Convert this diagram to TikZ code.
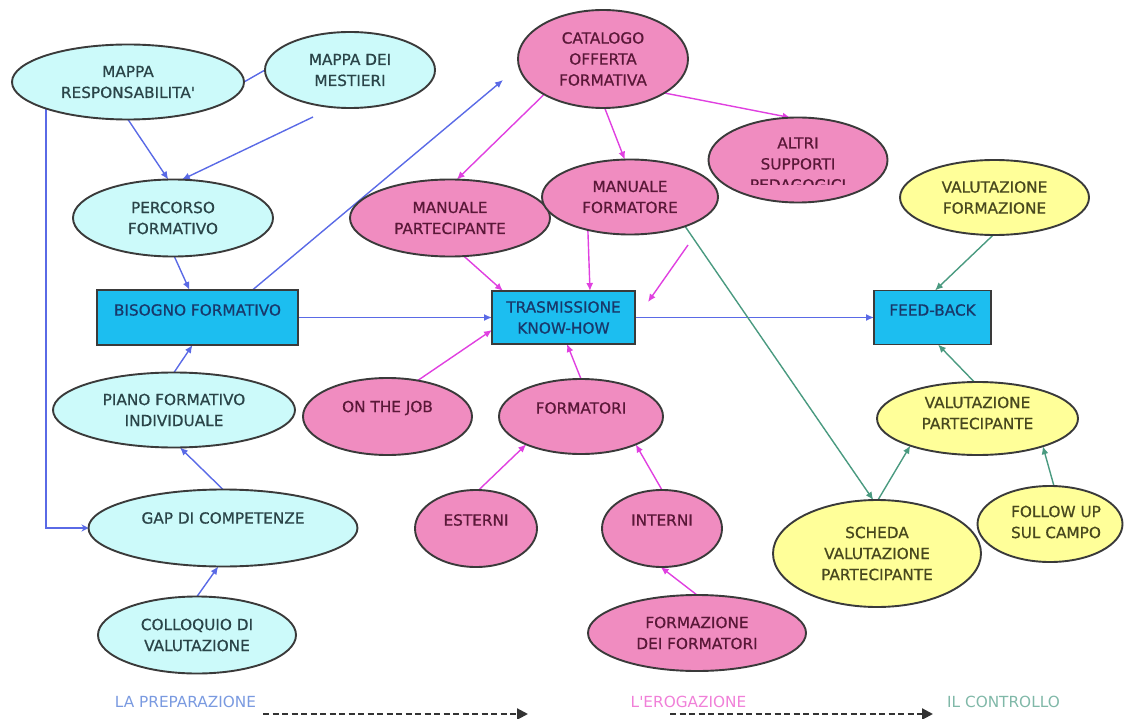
\documentclass[tikz,border=0pt]{standalone}
\usepackage{fontspec}
\setmainfont{DejaVu Sans}
\newfontfamily\nodefont{DejaVu Sans}[FakeBold=0.7]
\usetikzlibrary{shapes.geometric,arrows.meta,backgrounds}
\definecolor{cyanfill}{HTML}{CCFAFA}
\definecolor{pinkfill}{HTML}{F08CC0}
\definecolor{yellowfill}{HTML}{FFFF99}
\definecolor{boxfill}{HTML}{1CBEF0}
\definecolor{bord}{HTML}{3A3A3A}
\definecolor{preptext}{HTML}{2A4448}
\definecolor{erogtext}{HTML}{5A1838}
\definecolor{ctrltext}{HTML}{48481E}
\definecolor{boxtext}{HTML}{18386A}
\definecolor{blueline}{HTML}{5A6AE6}
\definecolor{magline}{HTML}{E040E0}
\definecolor{tealline}{HTML}{4A9A80}
\definecolor{prepcol}{HTML}{7A9AE0}
\definecolor{erogcol}{HTML}{F080D8}
\definecolor{ctrlcol}{HTML}{80B8A8}
\begin{document}
\begin{tikzpicture}[x=1pt,y=-1pt,
  every node/.style={font=\nodefont\fontsize{15.3}{21}\selectfont, align=center, inner sep=0pt, outer sep=0pt},
  ell/.style={ellipse, draw=bord, line width=1.9pt},
  prep/.style={ell, fill=cyanfill, text=preptext},
  erog/.style={ell, fill=pinkfill, text=erogtext},
  ctrl/.style={ell, fill=yellowfill, text=ctrltext},
  boxnode/.style={rectangle, draw=bord, line width=1.9pt, fill=boxfill, text=boxtext},
  sz/.style n args={2}{minimum width=#1pt, minimum height=#2pt},
  tip/.style={-{Latex[length=8pt,width=7pt]}},
  bl/.style={draw=blueline, line width=1.4pt, tip},
  bline/.style={draw=blueline, line width=1.4pt},
  blo/.style={draw=blueline, line width=1.6pt, -{Stealth[length=7pt,width=7pt]}},
  mg/.style={draw=magline, line width=1.4pt, tip},
  tl/.style={draw=tealline, line width=1.4pt, tip},
  phaselbl/.style={font=\fontsize{15.3}{21}\selectfont},
  phase/.style={draw=black!80, line width=2.2pt, dash pattern=on 6pt off 3.5pt, -{Triangle[length=11pt,width=11pt]}}
]
\useasboundingbox (0,0) rectangle (1126,719);

% --- preparation (cyan)
\node[prep, sz={232}{75}] (mr) at (128,82) {MAPPA\\RESPONSABILITA\textquotesingle};
\node[prep, sz={170}{76}] (mm) at (350,70) {MAPPA DEI\\MESTIERI};
\node[prep, sz={200}{77}] (pf) at (173,218) {PERCORSO\\FORMATIVO};
\node[prep, sz={242}{75}] (pi) at (174,410) {PIANO FORMATIVO\\INDIVIDUALE};
\node[prep, sz={269}{77}] (gc) at (223,528) {};
\node[text=preptext] (gct) at (223,518) {GAP DI COMPETENZE};
\node[prep, sz={198}{77}] (co) at (197,635) {COLLOQUIO DI\\VALUTAZIONE};

% --- boxes
\node[boxnode, sz={201}{55}] (bf) at (197.5,317.5) {};
\node[text=boxtext] (bft) at (197.5,310) {BISOGNO FORMATIVO};
\node[boxnode, sz={143}{53}] (tk) at (563.5,317.5) {TRASMISSIONE\\KNOW-HOW};
\node[boxnode, sz={117}{54}] (fb) at (932.5,317.5) {};
\node[text=boxtext] (fbt) at (932.5,310) {FEED-BACK};

% --- delivery (pink)
\node[erog, sz={170}{98}] (ct) at (603,59) {CATALOGO\\OFFERTA\\FORMATIVA};
\node[erog, sz={200}{77}] (mp) at (450,218) {MANUALE\\PARTECIPANTE};
\node[erog, sz={176}{75}] (mf) at (630,197) {MANUALE\\FORMATORE};
\node[erog, sz={179}{85}] (al) at (798,160) {};
\begin{scope}
  \clip (700,120) rectangle (900,185);
  \node[text=erogtext] (alt) at (798,164) {ALTRI\\SUPPORTI\\PEDAGOGICI};
\end{scope}
\node[erog, sz={169}{77}] (oj) at (387.5,416.5) {};
\node[text=erogtext] (ojt) at (387.5,408) {ON THE JOB};
\node[erog, sz={164}{75}] (fo) at (581,416.5) {};
\node[text=erogtext] (fot) at (581,408) {FORMATORI};
\node[erog, sz={122}{77}] (es) at (476,528.5) {};
\node[text=erogtext] (est) at (476,520) {ESTERNI};
\node[erog, sz={120}{77}] (in) at (662,528.5) {};
\node[text=erogtext] (int) at (662,520) {INTERNI};
\node[erog, sz={218}{76}] (ff) at (697,633) {FORMAZIONE\\DEI FORMATORI};

% --- control (yellow)
\node[ctrl, sz={189}{75}] (vf) at (994.5,197.5) {VALUTAZIONE\\FORMAZIONE};
\node[ctrl, sz={201}{73}] (vp) at (977.5,418.5) {};
\node[text=ctrltext] (vpt) at (977.5,413) {VALUTAZIONE\\PARTECIPANTE};
\node[ctrl, sz={208}{107}] (sc) at (877,553.5) {SCHEDA\\VALUTAZIONE\\PARTECIPANTE};
\node[ctrl, sz={145}{76}] (fu) at (1050,524) {};
\node[text=ctrltext] (fut) at (1056,522) {FOLLOW UP\\SUL CAMPO};

% --- phase labels
\node[phaselbl, text=prepcol] (lp) at (185.5,702) {LA PREPARAZIONE};
\node[phaselbl, text=erogcol] (le) at (688.5,702) {L\textquotesingle EROGAZIONE};
\node[phaselbl, text=ctrlcol] (ic) at (1003.5,702) {IL CONTROLLO};

% free ends
\coordinate (mmf) at (313,117);
\coordinate (ctf) at (503,80);
\coordinate (tkf1) at (688,245);
\coordinate (tkf2) at (648,302);
\coordinate (d1a) at (263,714);
\coordinate (d1b) at (528,714);
\coordinate (d2a) at (670,714);
\coordinate (d2b) at (933,714);

\begin{scope}[on background layer]
% blue
\draw[bl] (mr.south) -- (pf.97);
\draw[bline] (mr.east) -- (mm.west);
\draw[bl] (mmf) -- (pf.77);
\draw[bl] (pf.-88) -- ([xshift=-8pt]bf.north);
\draw[bl] ([xshift=55pt]bf.north) -- (ctf);
\draw[bl] (bf.east) -- (tk.west);
\draw[bl] (tk.east) -- (fb.west);
\draw[bl] (pi.north) -- ([xshift=-5pt]bf.south);
\draw[bl] (gc.north) -- (pi.-81);
\draw[bl] (co.north) -- (gc.-97);
\draw[blo] (mr.-162.5) |- (gc.west);
% magenta
\draw[mg] (ct.-149) -- (mp.80);
\draw[mg] (ct.-88) -- (mf.98);
\draw[mg] (ct.-29) -- (al.100);
\draw[mg] (mp.-70) -- ([xshift=-60.5pt]tk.north);
\draw[mg] (mf.-142) -- ([xshift=26.5pt]tk.north);
\draw[mg] (tkf1) -- (tkf2);
\draw[mg] (oj.50) -- ([yshift=-12.5pt]tk.west);
\draw[mg] (fo.north) -- ([xshift=3.5pt]tk.south);
\draw[mg] (es.86) -- (fo.-153);
\draw[mg] (in.north) -- (fo.-27);
\draw[mg] (ff.north) -- (in.-92);
% teal
\draw[tl] (mf.-28) -- (sc.94);
\draw[tl] (sc.89) -- (vp.-158);
\draw[tl] (fu.84) -- (vp.-23);
\draw[tl] (vp.95) -- ([xshift=5.5pt]fb.south);
\draw[tl] (vf.-92) -- ([xshift=2.5pt]fb.north);
\end{scope}

% phase arrows
\draw[phase] (d1a) -- (d1b);
\draw[phase] (d2a) -- (d2b);
\end{tikzpicture}
\end{document}
